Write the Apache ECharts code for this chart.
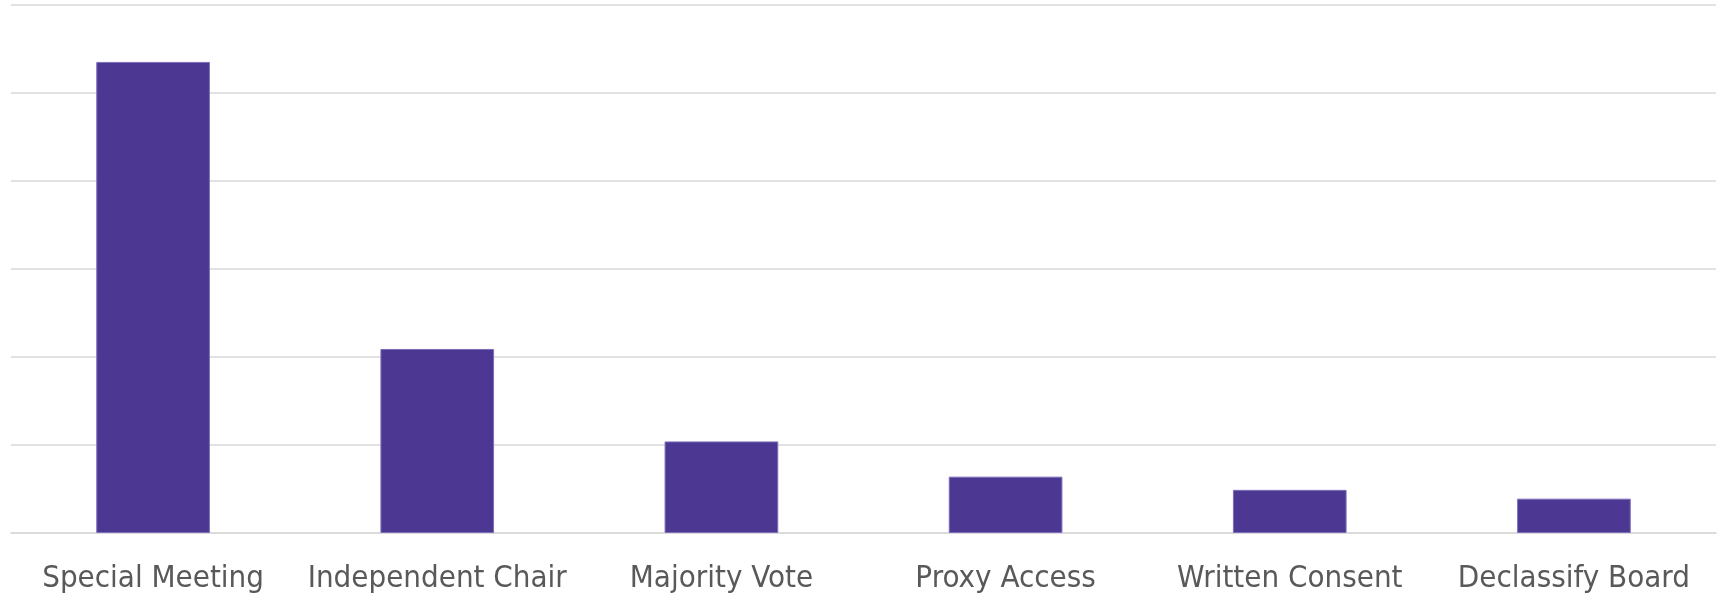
<!DOCTYPE html>
<html>
<head>
<meta charset="utf-8">
<script src="https://cdn.jsdelivr.net/npm/echarts@6/dist/echarts.min.js"></script>
<style>
html,body{margin:0;padding:0;background:#fff;}
#chart{width:1719px;height:594px;}
</style>
</head>
<body>
<div id="chart"></div>
<script>
const categories = ["Special Meeting", "Independent Chair", "Majority Vote", "Proxy Access", "Written Consent", "Declassify Board"];
const values = [53.5, 20.9, 10.4, 6.4, 4.9, 3.9];
const yMin = 0, yMax = 60, yInterval = 10;

const chart = echarts.init(document.getElementById('chart'), null, {renderer: 'canvas'});
chart.setOption({
  animation: false,
  backgroundColor: '#ffffff',
  grid: {left: 11, right: 3, top: 4.7, bottom: 60.5, containLabel: false},
  xAxis: {
    type: 'category',
    data: categories,
    axisLine: {show: true, lineStyle: {color: '#d9d9d9', width: 1.5}},
    axisTick: {show: false},
    axisLabel: {
      color: '#595959',
      fontFamily: '"DejaVu Sans Condensed", "DejaVu Sans", sans-serif',
      fontSize: 31,
      margin: 30,
      interval: 0
    }
  },
  yAxis: {
    type: 'value',
    min: yMin, max: yMax, interval: yInterval,
    axisLabel: {show: false},
    axisLine: {show: false},
    axisTick: {show: false},
    splitLine: {show: true, lineStyle: {color: '#d9d9d9', width: 1.5}}
  },
  series: [{
    type: 'bar',
    data: values,
    barCategoryGap: '60%',
    itemStyle: {color: '#4c3892', borderColor: '#7d6eba', borderWidth: 1}
  }]
});
</script>
</body>
</html>
